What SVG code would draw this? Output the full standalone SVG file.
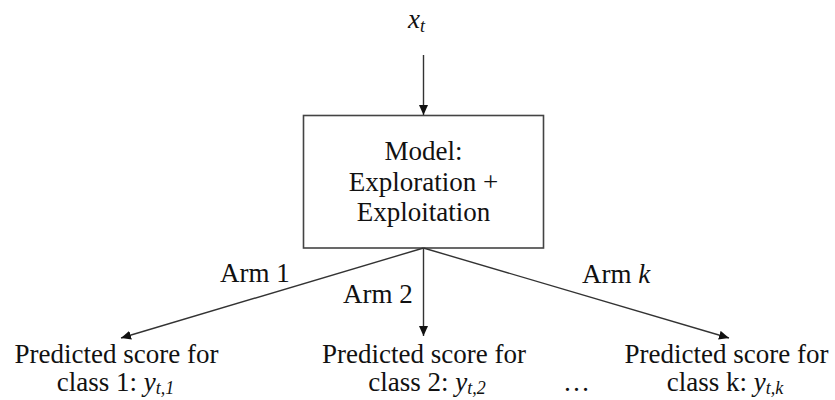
<svg xmlns="http://www.w3.org/2000/svg" width="835" height="400" viewBox="0 0 835 400">
<defs>
<style>
.t{font-family:"Liberation Serif",Tinos,"Times New Roman","DejaVu Serif",serif;font-size:27px;fill:#111;}
.m{font-style:italic;}
.sub{font-size:18px;}
.ln{stroke:#333;stroke-width:1.4;fill:none;marker-end:url(#ah);}
</style>
<marker id="ah" viewBox="0 0 10 10" refX="10" refY="5" markerWidth="10" markerHeight="10" markerUnits="userSpaceOnUse" orient="auto">
<path d="M0,0.5 L10,5 L0,9.5 Z" fill="#111"/>
</marker>
</defs>
<rect width="835" height="400" fill="#fff"/>
<g id="input">
<text class="t m" x="408" y="28">x<tspan class="sub" dy="4">t</tspan></text>
</g>
<g id="model">
<rect x="303.5" y="115.5" width="240" height="132.5" fill="#fff" stroke="#444" stroke-width="1.6"/>
<text class="t" x="423.5" y="160" text-anchor="middle">Model:</text>
<text class="t" x="423.5" y="191" text-anchor="middle">Exploration +</text>
<text class="t" x="423.5" y="221" text-anchor="middle">Exploitation</text>
</g>
<g id="connectors">
<line class="ln" x1="423.5" y1="55" x2="423.5" y2="115"/>
<line class="ln" x1="423.5" y1="248" x2="121" y2="338"/>
<line class="ln" x1="423.5" y1="248" x2="423.5" y2="336"/>
<line class="ln" x1="423.5" y1="248" x2="729" y2="338"/>
<text class="t" x="220" y="282">Arm 1</text>
<text class="t" x="343" y="303">Arm 2</text>
<text class="t" x="582" y="283">Arm <tspan class="m">k</tspan></text>
</g>
<g id="out1">
<text class="t" x="116.5" y="363" text-anchor="middle">Predicted score for</text>
<text class="t" x="115.5" y="391" text-anchor="middle">class 1: <tspan class="m">y</tspan><tspan class="m sub" dy="3">t,1</tspan></text>
</g>
<g id="out2">
<text class="t" x="424" y="363" text-anchor="middle">Predicted score for</text>
<text class="t" x="427" y="391" text-anchor="middle">class 2: <tspan class="m">y</tspan><tspan class="m sub" dy="3">t,2</tspan></text>
</g>
<g id="dots">
<text class="t" x="563" y="391">…</text>
</g>
<g id="outk">
<text class="t" x="726.5" y="363" text-anchor="middle">Predicted score for</text>
<text class="t" x="725" y="391" text-anchor="middle">class k: <tspan class="m">y</tspan><tspan class="m sub" dy="3">t,k</tspan></text>
</g>
</svg>
